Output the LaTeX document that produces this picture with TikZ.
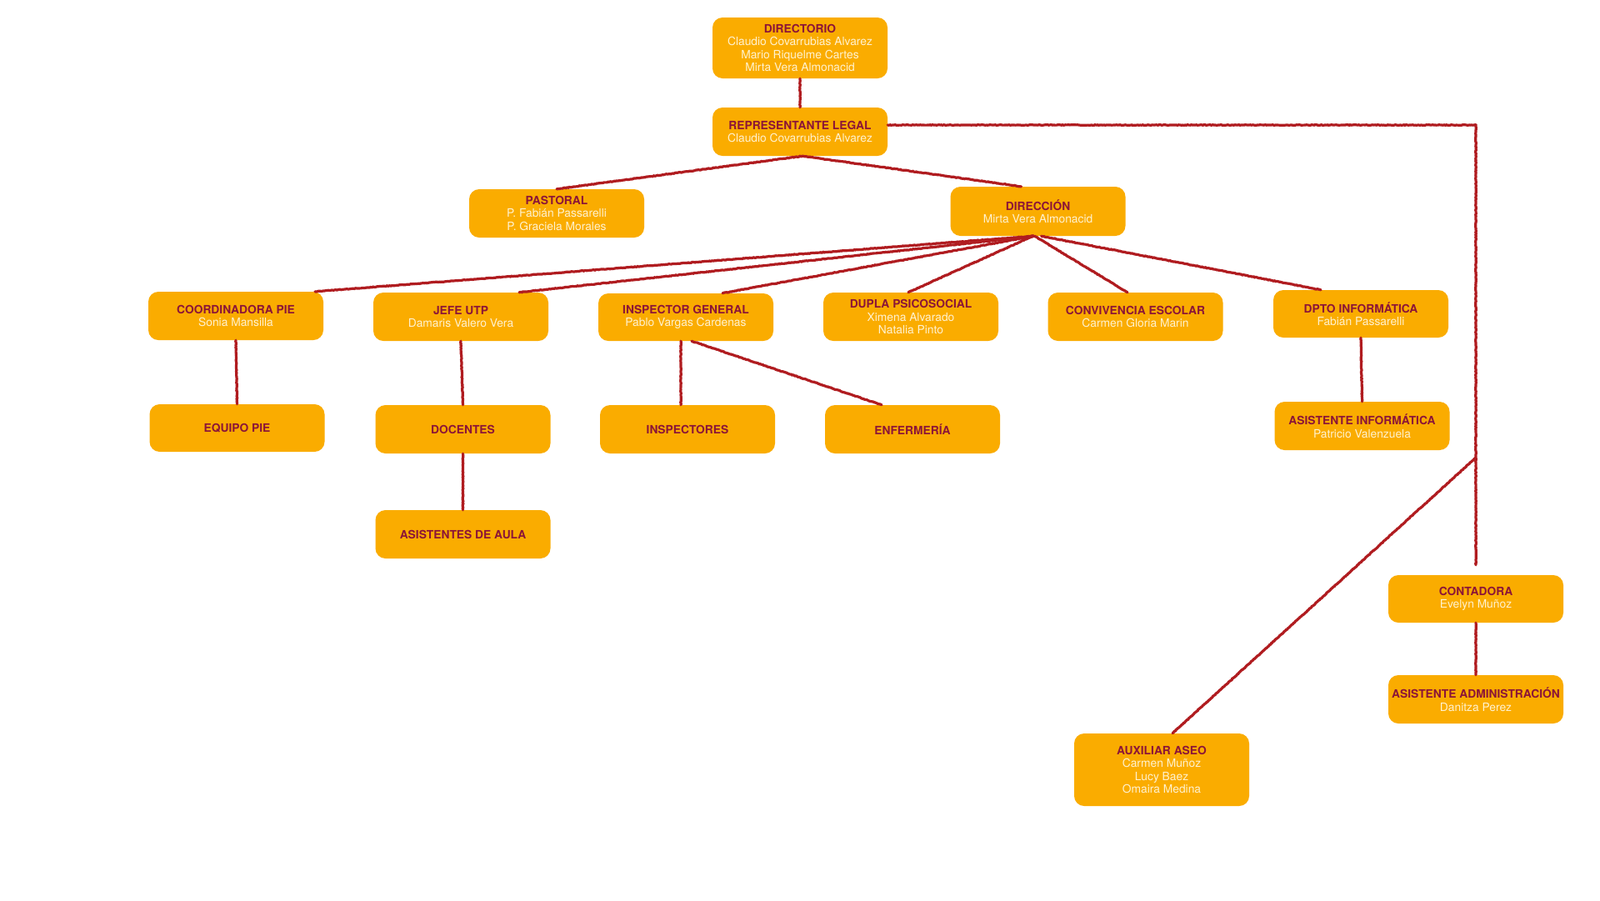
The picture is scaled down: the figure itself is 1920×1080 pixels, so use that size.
\documentclass[tikz,border=0pt]{standalone}
\usepackage{fontspec}
\setmainfont{TeX Gyre Heros}
\usetikzlibrary{decorations.pathmorphing}
\definecolor{boxfill}{HTML}{FAAC00}
\definecolor{titlecol}{HTML}{8B1538}
\definecolor{namecol}{HTML}{FFF2D0}
\definecolor{linecol}{HTML}{B01C20}
\newcommand{\ttl}[1]{{\color{titlecol}\bfseries #1}}
\tikzset{
  box/.style={rectangle, rounded corners=12pt, fill=boxfill, minimum width=210pt,
    inner sep=0pt, align=center, text=namecol,
    font=\fontsize{13.8}{15.5}\selectfont},
  link/.style={draw=linecol, line width=3.2pt, line cap=round,
    decorate, decoration={random steps, segment length=1.5pt, amplitude=0.35pt}}
}
\begin{document}
\begin{tikzpicture}[x=1pt,y=-1pt]
\fill[white] (0,0) rectangle (1920,1080);
\useasboundingbox (0,0) rectangle (1920,1080);

% nodes
\node[box, minimum height=73pt] (dir) at (960,57.5) {\ttl{DIRECTORIO}\\Claudio Covarrubias Alvarez\\Mario Riquelme Cartes\\Mirta Vera Almonacid};
\node[box, minimum height=58pt] (rep) at (960,158) {\ttl{REPRESENTANTE LEGAL}\\Claudio Covarrubias Alvarez};
\node[box, minimum height=58pt] (pas) at (668,256) {\ttl{PASTORAL}\\P. Fabián Passarelli\\P. Graciela Morales};
\node[box, minimum height=59pt] (dcc) at (1245.5,253.5) {\ttl{DIRECCIÓN}\\Mirta Vera Almonacid};

\node[box, minimum height=58pt] (coord) at (283,379) {\ttl{COORDINADORA PIE}\\Sonia Mansilla};
\node[box, minimum height=58pt] (jefe) at (553,380) {\ttl{JEFE UTP}\\Damaris Valero Vera};
\node[box, minimum height=57pt] (insp) at (823,380.5) {\ttl{INSPECTOR GENERAL}\\Pablo Vargas Cardenas};
\node[box, minimum height=58pt] (dupla) at (1093,380) {\ttl{DUPLA PSICOSOCIAL}\\Ximena Alvarado\\Natalia Pinto};
\node[box, minimum height=58pt] (conv) at (1362.5,380) {\ttl{CONVIVENCIA ESCOLAR}\\Carmen Gloria Marin};
\node[box, minimum height=57pt] (dpto) at (1633,376.5) {\ttl{DPTO INFORMÁTICA}\\Fabián Passarelli};

\node[box, minimum height=57pt] (equipo) at (284.5,513.5) {\ttl{EQUIPO PIE}};
\node[box, minimum height=58pt] (doc) at (555.5,515) {\ttl{DOCENTES}};
\node[box, minimum height=58pt] (inspes) at (825,515) {\ttl{INSPECTORES}};
\node[box, minimum height=58pt] (enf) at (1095,515) {\ttl{ENFERMERÍA}};
\node[box, minimum height=58pt] (asinf) at (1634.5,511) {\ttl{ASISTENTE INFORMÁTICA}\\Patricio Valenzuela};
\node[box, minimum height=58pt] (aula) at (555.5,641) {\ttl{ASISTENTES DE AULA}};

\node[box, minimum height=57pt] (cont) at (1771,718.5) {\ttl{CONTADORA}\\Evelyn Muñoz};
\node[box, minimum height=58pt] (asadm) at (1771,839) {\ttl{ASISTENTE ADMINISTRACIÓN}\\Danitza Perez};
\node[box, minimum height=87pt] (aux) at (1394,923.5) {\ttl{AUXILIAR ASEO}\\Carmen Muñoz\\Lucy Baez\\Omaira Medina};

\coordinate (vj) at (1771,549);

% connectors
\draw[link] (dir.south) -- (rep.north);
\draw[link] ([xshift=3pt]rep.south) -- (pas.north);
\draw[link] ([xshift=3pt]rep.south) -- ([xshift=-20pt]dcc.north);
\draw[link] ([yshift=8pt]rep.east) -| ([yshift=12pt]cont.north);
\draw[link] (vj) -- ([xshift=13pt]aux.north);

\draw[link] ([xshift=-5pt]dcc.south) -- ([xshift=95pt]coord.north);
\draw[link] ([xshift=-5pt]dcc.south) -- ([xshift=70pt]jefe.north);
\draw[link] ([xshift=-5pt]dcc.south) -- ([xshift=44pt]insp.north);
\draw[link] ([xshift=-6pt]dcc.south) -- ([xshift=-3pt]dupla.north);
\draw[link] ([xshift=-4pt]dcc.south) -- ([xshift=-9.5pt]conv.north);
\draw[link] ([xshift=4pt]dcc.south) -- ([xshift=-48pt]dpto.north);

\draw[link] (coord.south) -- (equipo.north);
\draw[link] (jefe.south) -- (doc.north);
\draw[link] (doc.south) -- (aula.north);
\draw[link] ([xshift=-6pt]insp.south) -- ([xshift=-6pt]insp.south |- inspes.north);
\draw[link] ([xshift=7pt]insp.south) -- ([xshift=-37pt]enf.north);
\draw[link] (dpto.south) -- (asinf.north);
\draw[link] (cont.south) -- (asadm.north);
\end{tikzpicture}
\end{document}
